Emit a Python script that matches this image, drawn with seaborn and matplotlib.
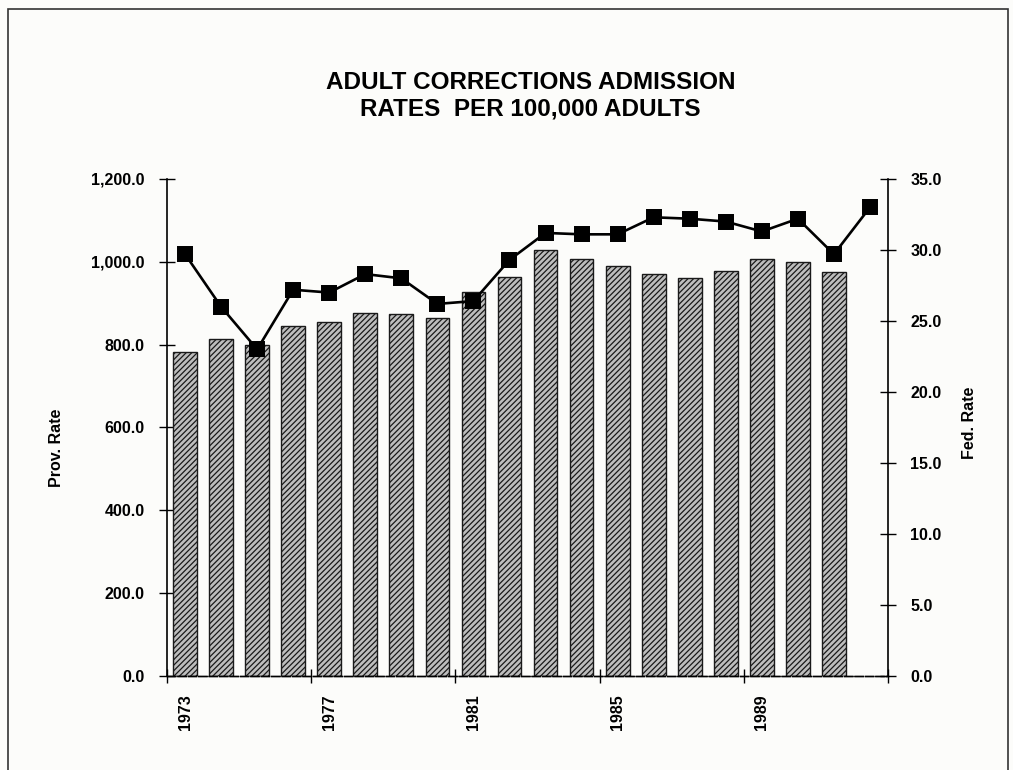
import numpy as np
import pandas as pd
import matplotlib
matplotlib.use("Agg")
import matplotlib.pyplot as plt
import matplotlib.patches as mpatches
import seaborn as sb

# data
years = [str(y) for y in range(1973, 1993)]
prov_years = years[:19]
prov_rate = [783, 814, 800, 845, 855, 877, 874, 865, 928, 964,
             1029, 1007, 990, 971, 961, 978, 1007, 1000, 976]
fed_rate = [29.7, 26.0, 23.0, 27.2, 27.0, 28.3, 28.0, 26.2, 26.4, 29.3,
            31.2, 31.1, 31.1, 32.3, 32.2, 32.0, 31.3, 32.2, 29.7, 33.0]
tick_years = ["1973", "1977", "1981", "1985", "1989"]

prov = pd.DataFrame({"year": prov_years, "rate": prov_rate})
fed = pd.DataFrame({"year": years, "rate": fed_rate})

sb.set_style("ticks")
plt.rcParams["font.family"] = ["Liberation Sans", "DejaVu Sans"]
plt.rcParams["hatch.linewidth"] = 0.9
for k in ("text.color", "axes.labelcolor", "xtick.color", "ytick.color",
          "axes.edgecolor"):
    plt.rcParams[k] = "black"

fig = plt.figure(figsize=(10.13, 7.7), dpi=100, facecolor="#fcfcfa")
ax = fig.add_axes([0.1649, 0.1221, 0.7117, 0.6455])
ax.set_facecolor("none")

sb.barplot(data=prov, x="year", y="rate", order=years, width=0.66,
           color="#bdbdbd", edgecolor="#1a1a1a", linewidth=1.0,
           hatch="//////", ax=ax)

ax2 = ax.twinx()
sb.pointplot(data=fed, x="year", y="rate", order=years, color="black",
             markers="s", linestyles="-", markersize=10, linewidth=1.9,
             ax=ax2)

ax.set_xlim(-0.5, 19.5)
ax.set_ylim(0, 1200)
ax2.set_ylim(0, 35)
ax.set_yticks(np.arange(0, 1201, 200))
ax.set_yticklabels([f"{v:,.1f}" for v in np.arange(0, 1201, 200)])
ax2.set_yticks(np.arange(0, 36, 5))
ax2.set_yticklabels([f"{v:.1f}" for v in np.arange(0, 36, 5)])

# year labels under bars, tick marks between bars
pos = [years.index(t) for t in tick_years]
ax.set_xticks(pos)
ax.set_xticklabels(tick_years, rotation=90)
ax.set_xticks([p - 0.5 for p in pos] + [19.5], minor=True)
ax.tick_params(axis="x", which="major", length=0, pad=13)
ax.tick_params(axis="x", which="minor", length=10, direction="inout", width=1)
ax.tick_params(axis="y", length=12, direction="inout", width=1, pad=10)
ax2.tick_params(axis="y", length=12, direction="inout", width=1, pad=10)
for a in (ax, ax2):
    a.tick_params(labelsize=11.5)
    for lab in a.get_xticklabels() + a.get_yticklabels():
        lab.set_fontweight("bold")

for a in (ax, ax2):
    a.spines["top"].set_visible(False)
    a.spines["left"].set_linewidth(1.2)
    a.spines["right"].set_linewidth(1.2)
    a.spines["bottom"].set_linewidth(1.0)
    a.spines["bottom"].set_linestyle((0, (6, 1.5)))
ax.spines["right"].set_visible(False)
ax2.spines["left"].set_visible(False)

ax.set_xlabel("")
ax.set_ylabel("Prov. Rate", fontsize=11.5, fontweight="bold")
ax2.set_ylabel("Fed. Rate", fontsize=11.5, fontweight="bold", rotation=90)
ax.yaxis.set_label_coords(-0.1425, 0.46)
ax2.yaxis.set_label_coords(1.1025, 0.51)

fig.text(0.524, 0.876, "ADULT CORRECTIONS ADMISSION\nRATES  PER 100,000 ADULTS",
         ha="center", va="center", fontsize=17.5, fontweight="bold",
         linespacing=1.2)

# page frame
fig.patches.append(mpatches.Rectangle((0.008, -0.05), 0.987, 1.038,
                                      transform=fig.transFigure, fill=False,
                                      edgecolor="#333333", linewidth=1.2))

fig.savefig("out.png", dpi=100, facecolor=fig.get_facecolor())
